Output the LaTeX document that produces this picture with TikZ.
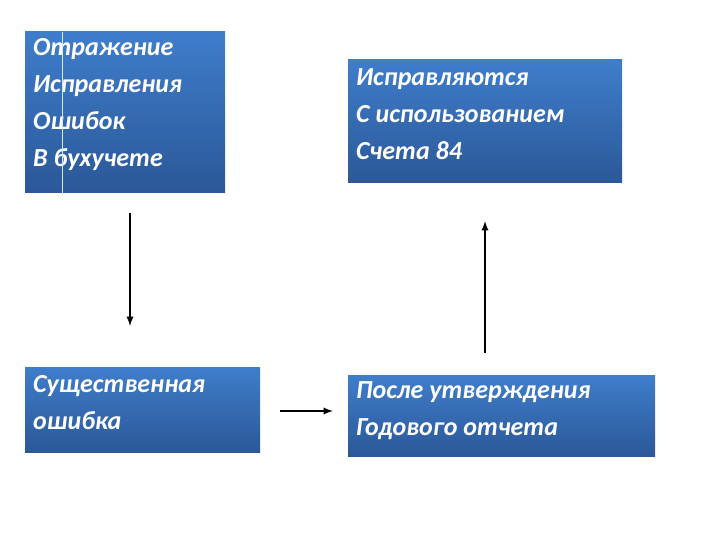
\documentclass[tikz,border=0pt]{standalone}
\usepackage{fontspec}
\setmainfont{Carlito}
\begin{document}
\begin{tikzpicture}[x=1pt,y=-1pt,
 bx/.style={draw=none,top color=blue1,bottom color=blue2,text=white,font=\fontsize{26}{37}\selectfont\bfseries\itshape,align=left,inner sep=0pt,anchor=north west,text width=#1},
 arr/.style={line width=2.2pt,-latex}]
\definecolor{blue1}{HTML}{3F7DCB}
\definecolor{blue2}{HTML}{2B5898}
\useasboundingbox (0,0) rectangle (720,540);
\shade[top color=blue1,bottom color=blue2] (25,32) rectangle (225,193);
\node[font=\fontsize{26}{37}\selectfont\bfseries\itshape,text=white,align=left,anchor=north west,inner sep=0pt] (a) at (33,38) {Отражение\\Исправления\\Ошибок\\В бухучете};
\draw[white!80!blue1,line width=0.8pt] (62,32) -- (62,193);
\shade[top color=blue1,bottom color=blue2] (348,60) rectangle (622,183);
\node[font=\fontsize{26}{37}\selectfont\bfseries\itshape,text=white,align=left,anchor=north west,inner sep=0pt] (b) at (356,68) {Исправляются\\С использованием\\Счета 84};
\shade[top color=blue1,bottom color=blue2] (25,367) rectangle (260,452);
\node[font=\fontsize{26}{37}\selectfont\bfseries\itshape,text=white,align=left,anchor=north west,inner sep=0pt] (c) at (33,375) {Существенная\\ошибка};
\shade[top color=blue1,bottom color=blue2] (348,375) rectangle (655,456);
\node[font=\fontsize{26}{37}\selectfont\bfseries\itshape,text=white,align=left,anchor=north west,inner sep=0pt] (d) at (356,381) {После утверждения\\Годового отчета};
\coordinate (a1) at (130,213); \coordinate (a2) at (130,326);
\coordinate (b1) at (485,353); \coordinate (b2) at (485,221);
\coordinate (c1) at (280,411); \coordinate (c2) at (333,411);
\draw[arr] (a1) -- (a2);
\draw[arr] (b1) -- (b2);
\draw[arr] (c1) -- (c2);
\end{tikzpicture}
\end{document}
